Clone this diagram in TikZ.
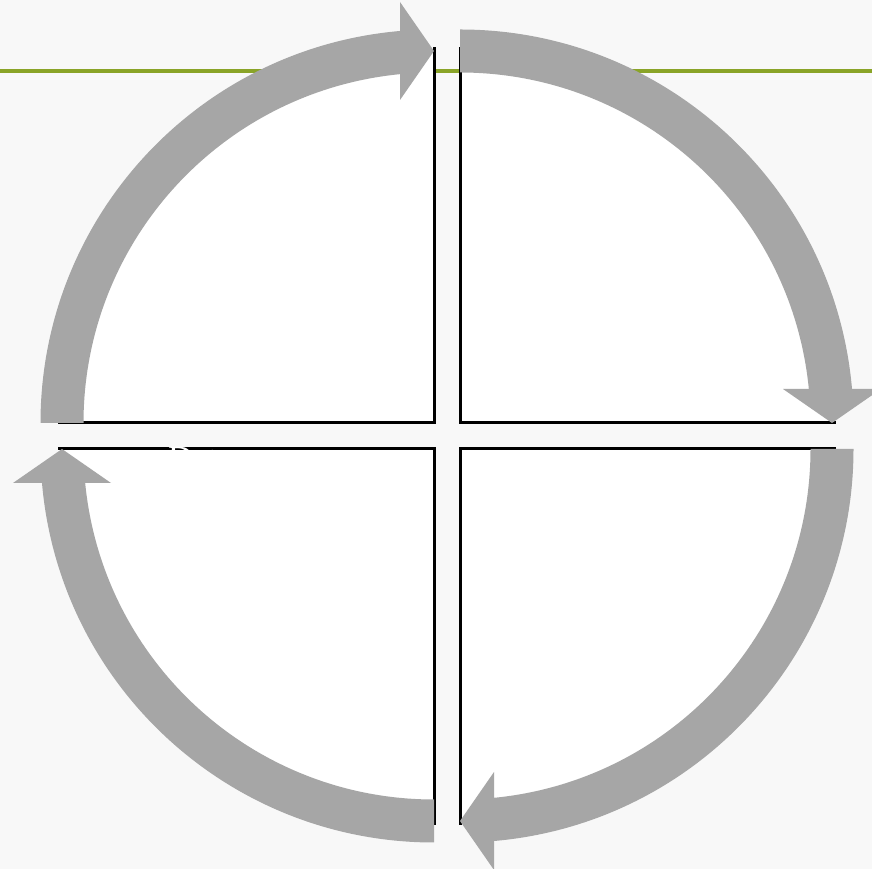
\documentclass[tikz,border=0pt]{standalone}
\usepackage{fontspec}
\setmainfont{Liberation Serif}
\definecolor{paper}{RGB}{248,248,248}
\definecolor{olivebar}{RGB}{138,164,40}
\definecolor{bandgray}{RGB}{166,166,166}

% one grey ring arrow, clockwise: centre, start angle, end angle
\newcommand{\cyclearrow}[3]{%
  \pgfmathsetmacro{\outend}{#3+asin(34/393.5)}
  \pgfmathsetmacro{\inend}{#3+asin(34/350.5)}
  \pgfmathsetmacro{\headrot}{#3-90}
  \fill[bandgray, shift={(#1)}] (#2:393.5) arc[start angle=#2, end angle=\outend, radius=393.5]
    -- ([rotate=\headrot]-34,421) -- (#3:372) -- ([rotate=\headrot]-34,323)
    -- (\inend:350.5) arc[start angle=\inend, end angle=#2, radius=350.5] -- cycle;}

% one white quarter disc, its two straight edges in black
\newcommand{\quarterpie}[3]{%
  \fill[white, shift={(#1)}] (0,0) -- (#2:376) arc[start angle=#2, end angle=#3, radius=376] -- cycle;
  \draw[pieedge, shift={(#1)}] (#2:376) -- (0,0) -- (#3:376);}

\begin{document}
\begin{tikzpicture}[x=1pt, y=1pt,
    pieedge/.style={black, line width=3pt, line join=miter},
    label/.style={text=white, font=\fontsize{34}{40}\selectfont, inner sep=0pt}]
  \useasboundingbox (0,0) rectangle (872,869);
  \fill[paper] (0,0) rectangle (872,869);

  % Corners of the four quarters
  \coordinate (tl) at (434,446);
  \coordinate (tr) at (460,446);
  \coordinate (bl) at (434,420);
  \coordinate (br) at (460,420);

  % Title rule
  \coordinate (rulel) at (0,798);
  \coordinate (ruler) at (872,798);
  \draw[olivebar, line width=3.5pt] (rulel) -- (ruler);

  % Quarters
  \quarterpie{tl}{180}{90}
  \quarterpie{tr}{90}{0}
  \quarterpie{br}{0}{-90}
  \quarterpie{bl}{-90}{-180}

  % Label
  \node[label, anchor=base west] (lab) at (168,399) {Data};

  % Ring arrows
  \cyclearrow{tl}{180}{90}
  \cyclearrow{tr}{90}{0}
  \cyclearrow{br}{0}{-90}
  \cyclearrow{bl}{270}{180}
\end{tikzpicture}
\end{document}
